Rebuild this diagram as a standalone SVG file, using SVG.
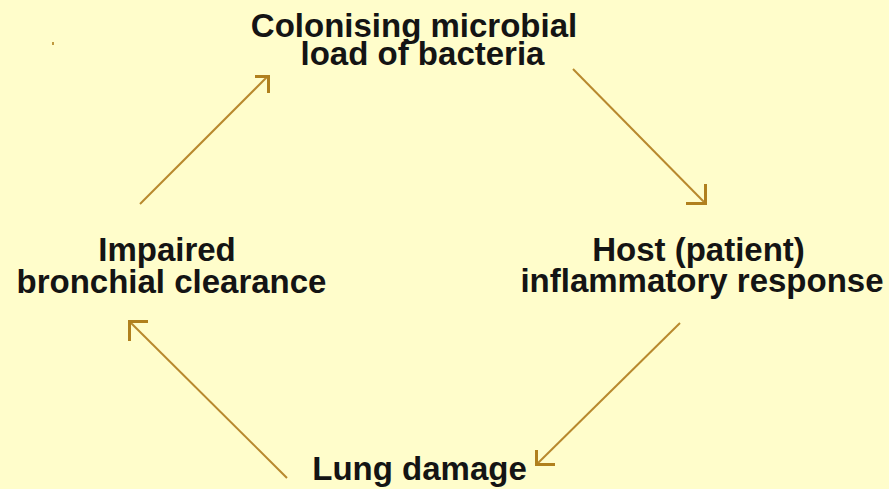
<svg xmlns="http://www.w3.org/2000/svg" width="889" height="489" viewBox="0 0 889 489">
<style>
.lbl{font-family:"Liberation Sans",Arial,sans-serif;font-weight:bold;font-size:33px;fill:#141414;text-anchor:middle}
.ln{stroke:#B8892E;stroke-width:2;fill:none}
.hd{stroke:#B0801E;stroke-width:3;fill:none;stroke-linecap:butt}
</style>
<rect x="0" y="0" width="889" height="489" fill="#FFFDCB"/>
<rect x="52" y="42" width="2" height="3" fill="#C09A40"/>
<g id="node-colonising">
<text class="lbl" x="414" y="37">Colonising microbial</text>
<text class="lbl" x="422.5" y="65">load of bacteria</text>
</g>
<g id="node-host">
<text class="lbl" x="698.5" y="261">Host (patient)</text>
<text class="lbl" x="702" y="292">inflammatory response</text>
</g>
<g id="node-lung">
<text class="lbl" x="419.5" y="480">Lung damage</text>
</g>
<g id="node-impaired">
<text class="lbl" x="167" y="261">Impaired</text>
<text class="lbl" x="171.5" y="293">bronchial clearance</text>
</g>
<g id="connectors">
<line class="ln" x1="140" y1="204" x2="267" y2="77"/>
<polyline class="hd" points="255,76.5 268.5,76.5 268.5,93"/>
<line class="ln" x1="573" y1="69" x2="705" y2="203"/>
<polyline class="hd" points="705.5,184 705.5,203.5 686,203.5"/>
<line class="ln" x1="680" y1="323" x2="537" y2="464"/>
<polyline class="hd" points="536.5,450 536.5,464.5 555,464.5"/>
<line class="ln" x1="287" y1="478" x2="130" y2="322"/>
<polyline class="hd" points="129.5,341 129.5,321.5 148,321.5"/>
</g>
</svg>
